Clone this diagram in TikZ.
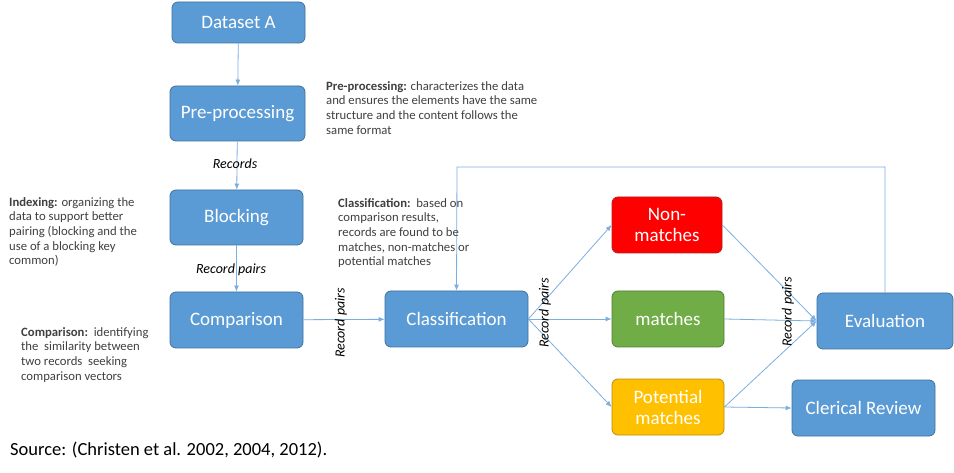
\documentclass[tikz,border=0pt]{standalone}
\usepackage{fontspec}
\setmainfont{Carlito}
\usetikzlibrary{arrows.meta}
\definecolor{boxblue}{HTML}{5B9BD5}
\definecolor{boxedge}{HTML}{41719C}
\definecolor{linkblue}{HTML}{7AAFE0}
\definecolor{nmred}{HTML}{FF0000}
\definecolor{nmedge}{HTML}{B02020}
\definecolor{mgreen}{HTML}{70AD47}
\definecolor{mgedge}{HTML}{507E32}
\definecolor{pyellow}{HTML}{FFC000}
\definecolor{pyedge}{HTML}{BC8C00}
\definecolor{notegray}{HTML}{404040}
\tikzset{
  stage/.style={draw=boxedge, fill=boxblue, rounded corners=6pt, line width=0.8pt,
    text=white, font=\fontsize{19}{21}\selectfont, align=center, inner sep=0pt},
  link/.style={draw=linkblue, line width=0.8pt, -{Latex[length=6pt,width=5pt]}},
  note/.style={text=notegray, font=\fontsize{12.7}{14.7}\selectfont, align=left, anchor=north west, inner sep=0pt},
  lbl/.style={font=\fontsize{14}{16}\selectfont\itshape, text=black, inner sep=1pt}
}
\begin{document}
\begin{tikzpicture}[x=1pt,y=-1pt]
\useasboundingbox[fill=white] (0,0) rectangle (954,473);
\node[stage, minimum width=133pt, minimum height=41pt] (ds) at (238.5,22.5) {Dataset A};
\node[stage, minimum width=135pt, minimum height=55pt] (pre) at (237.5,113.5) {Pre-processing};
\node[stage, minimum width=133pt, minimum height=55pt] (blk) at (236.5,217.5) {Blocking};
\node[stage, minimum width=133pt, minimum height=56pt] (cmp) at (236.5,320) {Comparison};
\node[stage, minimum width=143pt, minimum height=56pt] (cls) at (456.5,319) {Classification};
\node[stage, fill=nmred, draw=nmedge, minimum width=110pt, minimum height=56pt] (nm) at (667,225) {Non-\\matches};
\node[stage, fill=mgreen, draw=mgedge, minimum width=112pt, minimum height=56pt] (mt) at (668,319) {matches};
\node[stage, fill=pyellow, draw=pyedge, minimum width=112pt, minimum height=56pt] (pm) at (668,407) {Potential\\matches};
\node[stage, minimum width=136pt, minimum height=56pt] (ev) at (885,321) {Evaluation};
\node[stage, minimum width=143pt, minimum height=56pt] (cr) at (863.5,408) {Clerical Review};

\draw[link] (ds) -- (pre);
\draw[link] (pre) -- (blk);
\draw[link] (blk) -- (cmp);
\draw[link] (cmp) -- (cls);
\draw[link] (cls.east) -- (nm.west);
\draw[link] (cls.east) -- (mt.west);
\draw[link] (cls.east) -- (pm.west);
\draw[link] (nm.east) -- (ev.west);
\draw[link] (mt.east) -- (ev.west);
\draw[link] (pm.east) -- (ev.west);
\draw[link] (pm.east) -- (cr.west);
\coordinate (fb1) at (885,167);
\coordinate (fb2) at (457,167);
\draw[link] (ev.north) -- (fb1) -- (fb2) -- (cls.north);

\node[lbl] (l1) at (235,164) {Records};
\node[lbl] (l2) at (231,270) {Record pairs};
\node[lbl, rotate=90] (l3) at (341,323) {Record pairs};
\node[lbl, rotate=90] (l4) at (545,313) {Record pairs};
\node[lbl, rotate=90] (l5) at (788,312) {Record pairs};

\node[note] (n1) at (326,81) {\textbf{Pre-processing:} characterizes the data\\and ensures the elements have the same\\structure and the content follows the\\same format};
\node[note] (n2) at (9,197) {\textbf{Indexing:} organizing the\\data to support better\\pairing (blocking and the\\use of a blocking key\\common)};
\node[note] (n3) at (21,327) {\textbf{Comparison:}\ \ identifying\\the\ \ similarity between\\two records\ \ seeking\\comparison vectors};
\node[note] (n4) at (338,198) {\textbf{Classification:}\ \ based on\\comparison results,\\records are found to be\\matches, non-matches or\\potential matches};
\node[anchor=west, inner sep=0pt, font=\fontsize{18.5}{20}\selectfont] (src) at (10,450) {Source: (Christen et al. 2002, 2004, 2012).};
\end{tikzpicture}
\end{document}
